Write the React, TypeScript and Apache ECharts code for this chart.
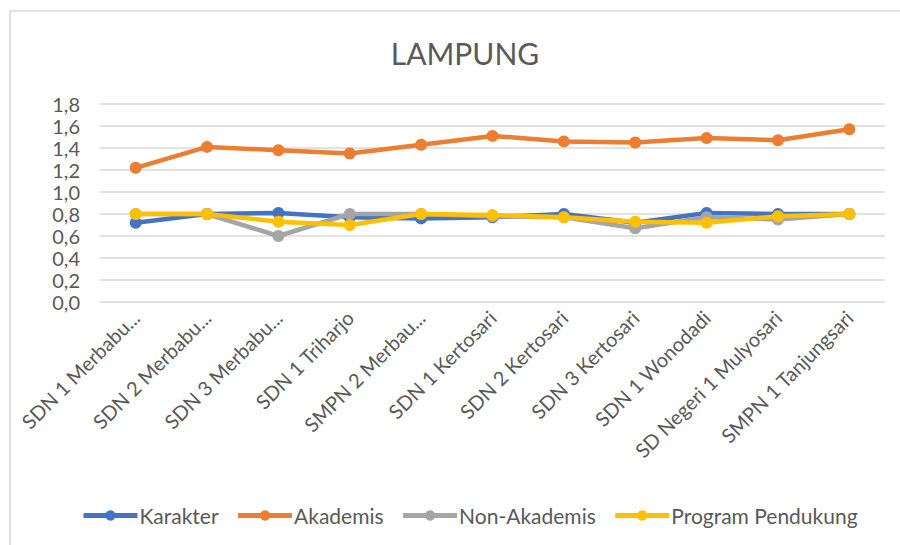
import React, { useEffect, useRef } from "react";
import * as echarts from "echarts";

const categories = [
  "SDN 1 Merbabu...",
  "SDN 2 Merbabu...",
  "SDN 3 Merbabu...",
  "SDN 1 Triharjo",
  "SMPN 2 Merbau...",
  "SDN 1 Kertosari",
  "SDN 2 Kertosari",
  "SDN 3 Kertosari",
  "SDN 1 Wonodadi",
  "SD Negeri 1 Mulyosari",
  "SMPN 1 Tanjungsari",
];

const karakter = [0.72, 0.8, 0.81, 0.77, 0.76, 0.77, 0.8, 0.72, 0.81, 0.8, 0.8];
const akademis = [1.22, 1.41, 1.38, 1.35, 1.43, 1.51, 1.46, 1.45, 1.49, 1.47, 1.57];
const nonAkademis = [0.8, 0.8, 0.6, 0.8, 0.8, 0.78, 0.77, 0.67, 0.77, 0.75, 0.8];
const programPendukung = [0.8, 0.8, 0.73, 0.7, 0.8, 0.79, 0.77, 0.73, 0.72, 0.78, 0.8];

const seriesNames = ["Karakter", "Akademis", "Non-Akademis", "Program Pendukung"];
const seriesColors = ["#4472C4", "#ED7D31", "#A5A5A5", "#FFC000"];
const seriesData = [karakter, akademis, nonAkademis, programPendukung];

const FONT = "Lato, 'Open Sans', sans-serif";
const TEXT = "#595959";

export default function App() {
  const ref = useRef<HTMLDivElement>(null);
  useEffect(() => {
    if (!ref.current) return;
    const chart = echarts.init(ref.current, undefined, { renderer: "svg" });
    chart.setOption({
      animation: false,
      backgroundColor: "#ffffff",
      textStyle: { fontFamily: FONT, color: TEXT },
      title: {
        text: "LAMPUNG",
        left: 460,
        top: 33,
        textAlign: "center",
        textStyle: { fontFamily: FONT, fontSize: 30, fontWeight: "normal", color: TEXT },
      },
      graphic: [
        {
          type: "rect",
          shape: { x: 10, y: 11, width: 920, height: 560 },
          style: { fill: "none", stroke: "#d9d9d9", lineWidth: 1.5 },
          silent: true,
        },
      ],
      grid: { left: 100, right: 15, top: 104, bottom: 243 },
      legend: {
        bottom: 14,
        left: 76,
        itemWidth: 54,
        itemHeight: 13,
        itemGap: 17,
        lineStyle: { width: 5 },
        textStyle: { fontFamily: FONT, fontSize: 21, color: TEXT, padding: [0, 0, 0, -3] },
        data: seriesNames,
      },
      xAxis: {
        type: "category",
        data: categories,
        boundaryGap: true,
        axisLine: { show: false },
        axisTick: { show: false },
        axisLabel: {
          rotate: 45,
          interval: 0,
          fontFamily: FONT,
          fontSize: 20,
          color: TEXT,
          margin: 12,
        },
      },
      yAxis: {
        type: "value",
        min: 0,
        max: 1.8,
        interval: 0.2,
        axisLine: { show: false },
        axisTick: { show: false },
        splitLine: { lineStyle: { color: "#d9d9d9", width: 1.5 } },
        axisLabel: {
          fontFamily: FONT,
          fontSize: 20,
          lineHeight: 20,
          color: TEXT,
          margin: 20,
          formatter: (v: number) => v.toFixed(1).replace(".", ","),
        },
      },
      series: seriesNames.map((name, i) => ({
        name,
        type: "line",
        data: seriesData[i],
        symbol: "circle",
        symbolSize: 12,
        lineStyle: { width: 4.5, color: seriesColors[i] },
        itemStyle: { color: seriesColors[i] },
        z: 2 + i,
      })),
    });
    return () => chart.dispose();
  }, []);
  return (
    <div
      ref={ref}
      style={{ position: "absolute", left: 0, top: 0, width: 900, height: 545 }}
    />
  );
}
